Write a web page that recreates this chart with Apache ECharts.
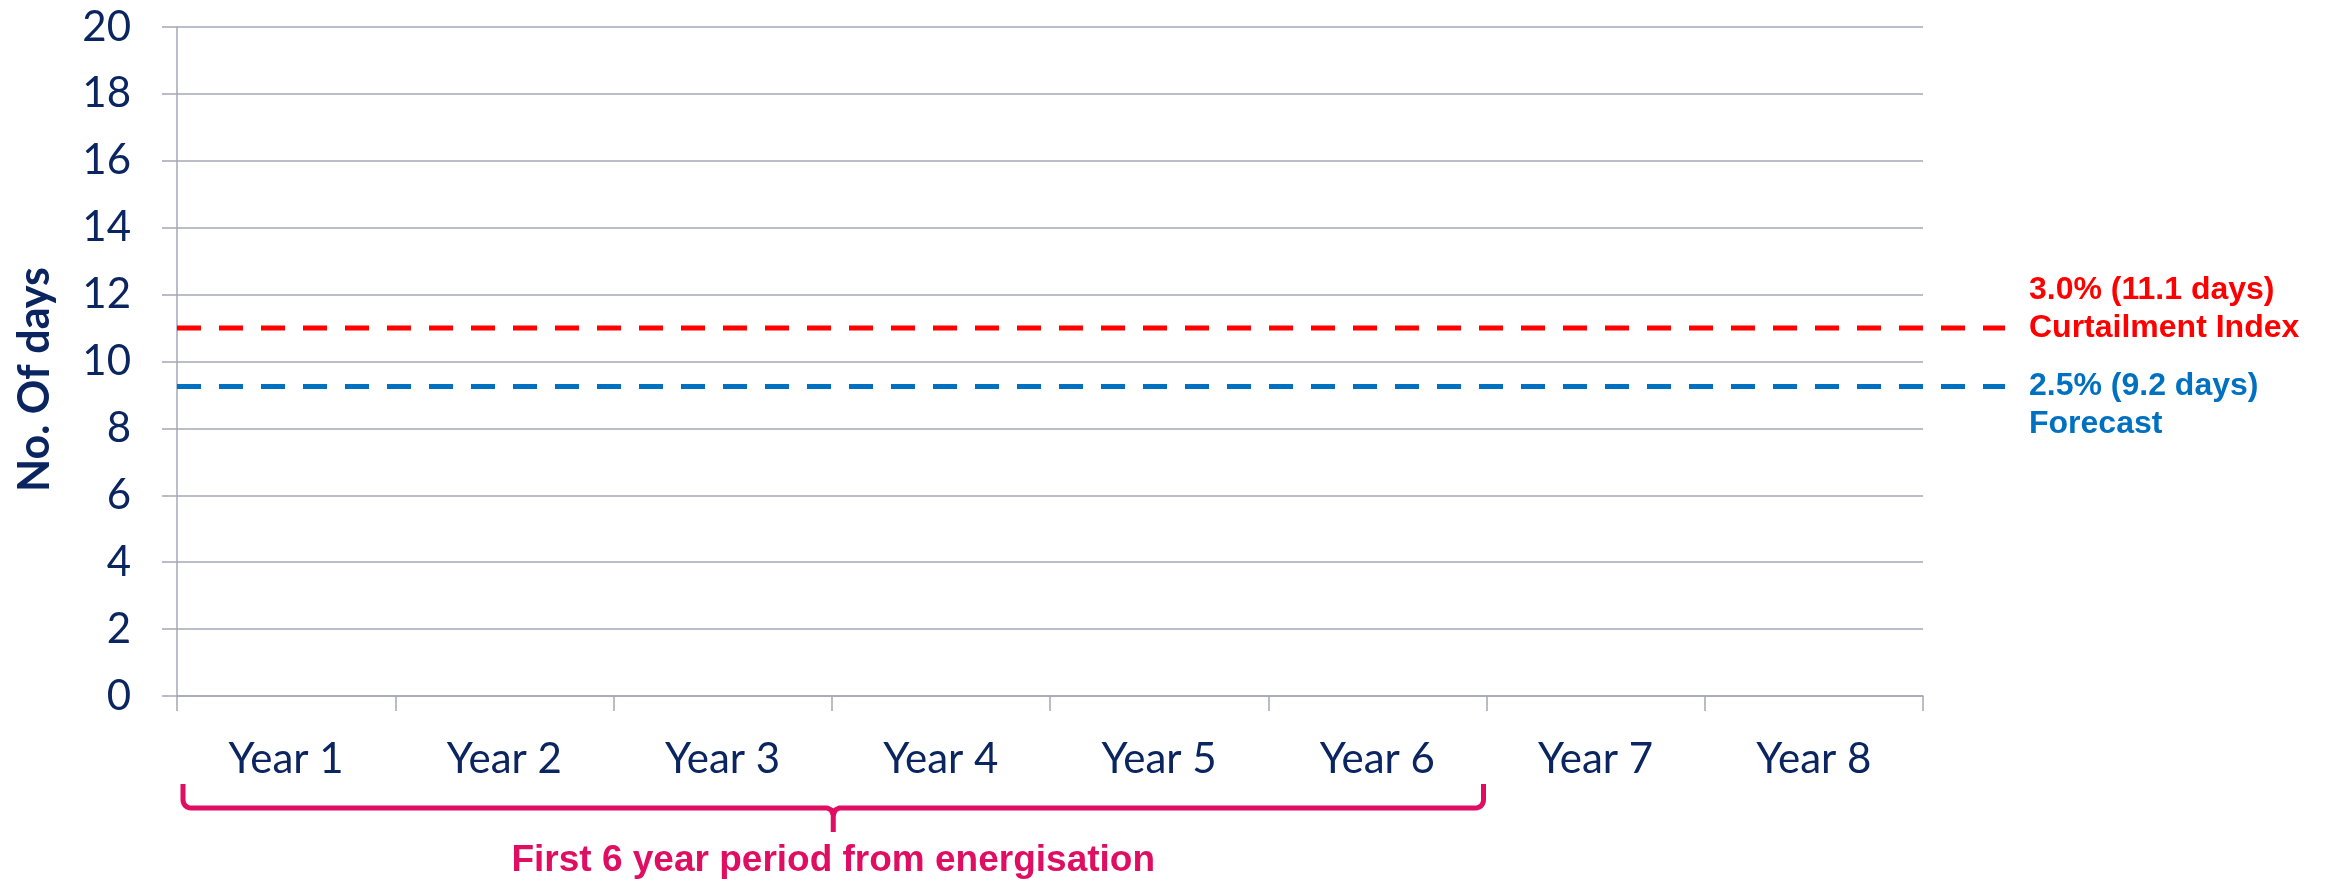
<!DOCTYPE html>
<html lang="en">
<head>
  <meta charset="UTF-8">
  <title>Curtailment days</title>
  <script src="https://cdn.jsdelivr.net/npm/echarts@6/dist/echarts.min.js"></script>
  <style>
    html, body { margin: 0; padding: 0; background: #fff; }
  </style>
</head>
<body>
  <div id="main" style="width: 2328px;height:890px;"></div>

  <script type="text/javascript">
    // chart values
    const categories = ['Year 1', 'Year 2', 'Year 3', 'Year 4', 'Year 5', 'Year 6', 'Year 7', 'Year 8'];
    const curtailmentLine = [11.0, 11.0];
    const forecastLine = [9.25, 9.25];
    const curtailmentLabel = ['3.0% (11.1 days)', 'Curtailment Index'];
    const forecastLabel = ['2.5% (9.2 days)', 'Forecast'];
    const periodYears = 6;
    const periodText = 'First 6 year period from energisation';

    const navy = '#0b2560';
    const gridGrey = '#a5a7b6';
    const magenta = '#df0e62';

    let myChart = echarts.init(document.getElementById('main'));

    // labelShift: red text sits above its line, blue text below
    function dashLine(name, values, color, labelLines, labelShift) {
      return {
        name: name,
        type: 'line',
        xAxisIndex: 1,
        yAxisIndex: 1,
        data: values.map((v, i) => [i, v]),
        symbol: 'none',
        silent: true,
        lineStyle: { color: color, width: 5, type: [24, 18] },
        endLabel: {
          show: true,
          formatter: labelLines.join('\n'),
          color: color,
          fontFamily: 'Liberation Sans',
          fontWeight: 'bold',
          fontSize: 32,
          lineHeight: 38,
          distance: 24,
          offset: [0, labelShift],
          align: 'left'
        }
      };
    }

    let options = {
      animation: false,
      grid: [
        { left: 177, right: 405, top: 27, bottom: 194 },
        { left: 177, right: 323, top: 27, bottom: 194 }
      ],
      xAxis: [{
        type: 'category',
        gridIndex: 0,
        data: categories,
        axisLine: { lineStyle: { color: gridGrey, width: 1.5 } },
        axisTick: { show: true, length: 15, lineStyle: { color: gridGrey, width: 1.5 } },
        axisLabel: { color: navy, fontFamily: 'Lato', fontSize: 42, margin: 42 }
      }, {
        type: 'value',
        gridIndex: 1,
        min: 0,
        max: 1,
        show: false
      }],
      yAxis: [{
        type: 'value',
        gridIndex: 0,
        min: 0,
        max: 20,
        interval: 2,
        name: 'No. Of days',
        nameLocation: 'middle',
        nameGap: 120,
        nameTextStyle: { color: navy, fontFamily: 'Lato', fontWeight: 'bold', fontSize: 43, padding: [0, 36, 0, 0] },
        axisLine: { show: true, lineStyle: { color: gridGrey, width: 1.5 } },
        axisTick: { show: true, length: 15, lineStyle: { color: gridGrey, width: 1.5 } },
        axisLabel: { color: navy, fontFamily: 'Lato', fontSize: 42, margin: 46 },
        splitLine: { lineStyle: { color: gridGrey, width: 1.5 } }
      }, {
        type: 'value',
        gridIndex: 1,
        min: 0,
        max: 20,
        show: false
      }],
      series: [
        dashLine('Curtailment Index', curtailmentLine, '#ff0000', curtailmentLabel, -19),
        dashLine('Forecast', forecastLine, '#0070c0', forecastLabel, 19)
      ]
    };

    myChart.setOption(options);

    // bracket under the first years, placed from the category axis
    const c0 = myChart.convertToPixel({ xAxisIndex: 0 }, categories[0]);
    const c1 = myChart.convertToPixel({ xAxisIndex: 0 }, categories[1]);
    const band = c1 - c0;
    const bL = c0 - band / 2 + 6;
    const bR = c0 + band * (periodYears - 0.5) - 3;
    const bMid = (bL + bR) / 2;
    const base = myChart.convertToPixel({ yAxisIndex: 0 }, 0);
    const bTop = base + 88, bBar = base + 112, bTip = base + 136, rad = 8;

    // quarter-circle corner points
    function corner(cx, cy, a0, a1) {
      const pts = [];
      for (let k = 0; k <= 6; k++) {
        const a = a0 + (a1 - a0) * k / 6;
        pts.push([cx + rad * Math.cos(a), cy + rad * Math.sin(a)]);
      }
      return pts;
    }

    const leftHalf = [[bL, bTop]]
      .concat(corner(bL + rad, bBar - rad, Math.PI, Math.PI / 2))
      .concat([[bMid - 6, bBar], [bMid - 2, bBar + 2], [bMid, bBar + 7], [bMid, bTip]]);
    const rightHalf = [[bMid, bBar + 7], [bMid + 2, bBar + 2], [bMid + 6, bBar]]
      .concat(corner(bR - rad, bBar - rad, Math.PI / 2, 0))
      .concat([[bR, bTop]]);

    const braceStyle = { fill: null, stroke: magenta, lineWidth: 5, lineJoin: 'round' };

    myChart.setOption({
      graphic: [{
        type: 'polyline',
        shape: { points: leftHalf },
        style: braceStyle,
        silent: true
      }, {
        type: 'polyline',
        shape: { points: rightHalf },
        style: braceStyle,
        silent: true
      }, {
        type: 'text',
        x: bMid,
        y: base + 165,
        style: {
          text: periodText,
          fill: magenta,
          font: 'bold 37px "Liberation Sans"',
          align: 'center',
          verticalAlign: 'middle'
        },
        silent: true
      }]
    });
  </script>
</body>
</html>
